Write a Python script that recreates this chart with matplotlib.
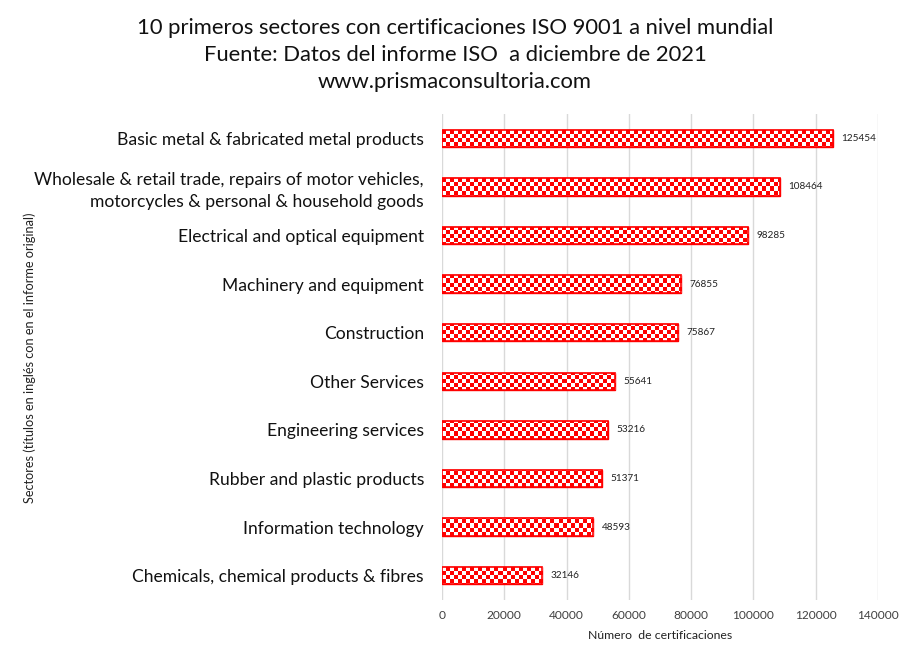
import numpy as np
import matplotlib
matplotlib.use("Agg")
import matplotlib.pyplot as plt

plt.rcParams['font.family'] = ['Lato', 'DejaVu Sans']

categories = [
    "Basic metal & fabricated metal products",
    "Wholesale & retail trade, repairs of motor vehicles,\nmotorcycles & personal & household goods",
    "Electrical and optical equipment",
    "Machinery and equipment",
    "Construction",
    "Other Services",
    "Engineering services",
    "Rubber and plastic products",
    "Information technology",
    "Chemicals, chemical products & fibres",
]
values = [125454, 108464, 98285, 76855, 75867, 55641, 53216, 51371, 48593, 32146]
xticks = [0, 20000, 40000, 60000, 80000, 100000, 120000, 140000]

title = ("10 primeros sectores con certificaciones ISO 9001 a nivel mundial\n"
         "Fuente: Datos del informe ISO  a diciembre de 2021\n"
         "www.prismaconsultoria.com")

fig = plt.figure(figsize=(9.11, 6.61), dpi=100)
ax = fig.add_axes([442/911, 1 - 600/661, (878-442)/911, (600-114)/661])

ypos = np.arange(len(categories))
bars = ax.barh(ypos, values, height=0.36, color='red', edgecolor='red', linewidth=1.0, zorder=2)
ax.set_ylim(len(categories) - 0.5, -0.5)
ax.set_xlim(0, 140000)

# checkerboard fill clipped to each bar
ax_w_px = 878 - 442
ax_h_px = 600 - 114
sq = 4.0
nx = int(ax_w_px / sq)
ny = int(ax_h_px / sq)
ii, jj = np.indices((ny, nx))
board = ((ii + jj) % 2).astype(float)
cmap = matplotlib.colors.ListedColormap(['red', 'white'])
for b in bars:
    im = ax.imshow(board, cmap=cmap, extent=(0, 140000, len(categories) - 0.5, -0.5),
                   interpolation='nearest', aspect='auto', zorder=3)
    im.set_clip_path(b)
    border = plt.Rectangle((b.get_x(), b.get_y()), b.get_width(), b.get_height(),
                           fill=False, edgecolor='red', linewidth=1.2, zorder=4)
    ax.add_patch(border)

for y, v in zip(ypos, values):
    ax.annotate(str(v), (v, y), xytext=(6, 0), textcoords='offset points',
                va='center', ha='left', fontsize=7.2, color='#222222')

ax.set_xticks(xticks)
ax.set_xticklabels([str(t) for t in xticks], fontsize=8.6, color='#404040')
ax.set_yticks(ypos)
ax.set_yticklabels(categories, fontsize=12.6, color='#111111', linespacing=1.4)
ax.tick_params(axis='both', length=0)
ax.tick_params(axis='x', pad=7)
ax.tick_params(axis='y', pad=13)
ax.grid(axis='x', color='#d9d9d9', linewidth=1, zorder=0)
ax.set_axisbelow(True)
for s in ax.spines.values():
    s.set_visible(False)

ax.set_xlabel("Número  de certificaciones", fontsize=8.8, color='#222222', labelpad=7)
fig.text(30/911, 1 - 358/661, "Sectores (títulos en inglés con en el informe original)",
         rotation=90, fontsize=9.2, va='center', ha='center', color='#222222')

fig.text(455/911, 1 - 55/661, title, ha='center', va='center', fontsize=15.8,
         linespacing=1.42, color='#111111')

fig.savefig("out.png", dpi=100)
